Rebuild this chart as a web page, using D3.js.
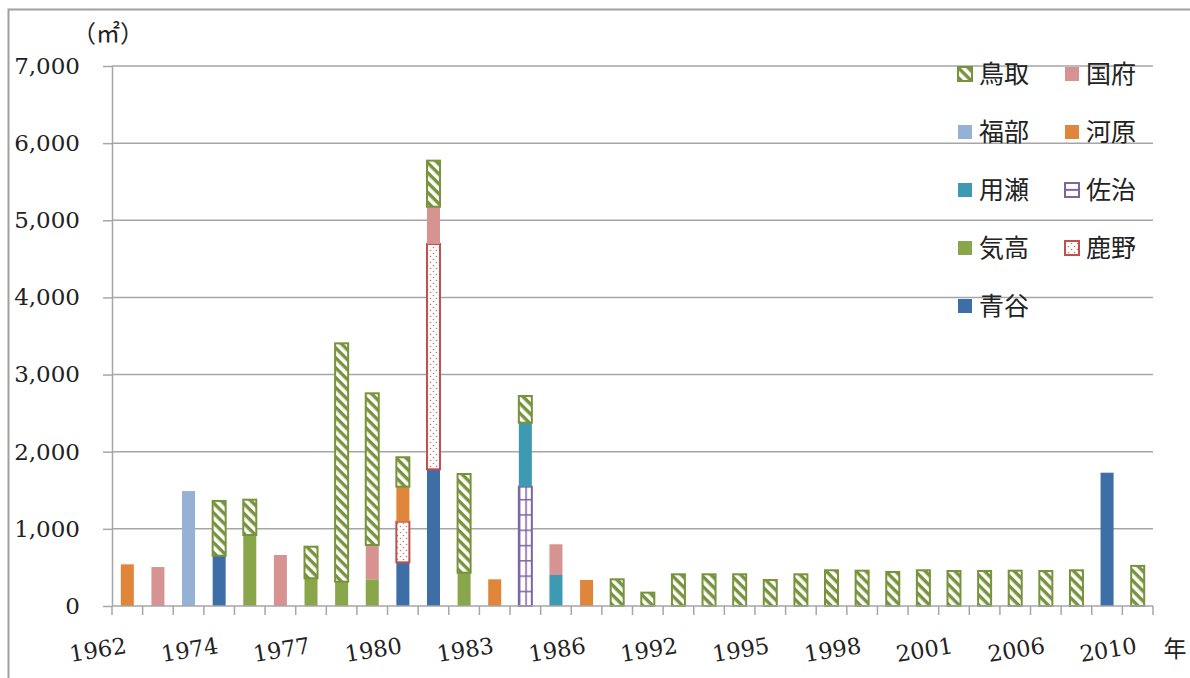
<!DOCTYPE html>
<html>
<head>
<meta charset="utf-8">
<script src="https://cdn.jsdelivr.net/npm/d3@7"></script>
<style>
  body { margin: 0; background: #fff; }
  svg { display: block; }
</style>
</head>
<body>
<div id="chart"></div>
<script>
// categories (only every third one gets a label on the axis)
const years = [
  '1962', '1966', '1970', '1974', '1975', '1976', '1977', '1978', '1979', '1980',
  '1981', '1982', '1983', '1984', '1985', '1986', '1988', '1990', '1992', '1993',
  '1994', '1995', '1996', '1997', '1998', '1999', '2000', '2001', '2003', '2005',
  '2006', '2008', '2009', '2010'
];

// values per area (m2), stacked bottom -> top in this order
const aoya = [
  0, 0, 0, 652, 0, 0, 0, 0, 0, 566,
  1772, 0, 0, 0, 0, 0, 0, 0, 0, 0,
  0, 0, 0, 0, 0, 0, 0, 0, 0, 0,
  0, 0, 1728, 0
];
const shikano = [
  0, 0, 0, 0, 0, 0, 0, 0, 0, 527,
  2921, 0, 0, 0, 0, 0, 0, 0, 0, 0,
  0, 0, 0, 0, 0, 0, 0, 0, 0, 0,
  0, 0, 0, 0
];
const ketaka = [
  0, 0, 0, 0, 920, 0, 359, 315, 346, 0,
  0, 432, 0, 0, 0, 0, 0, 0, 0, 0,
  0, 0, 0, 0, 0, 0, 0, 0, 0, 0,
  0, 0, 0, 0
];
const saji = [
  0, 0, 0, 0, 0, 0, 0, 0, 0, 0,
  0, 0, 0, 1547, 0, 0, 0, 0, 0, 0,
  0, 0, 0, 0, 0, 0, 0, 0, 0, 0,
  0, 0, 0, 0
];
const mochigase = [
  0, 0, 0, 0, 0, 0, 0, 0, 0, 0,
  0, 0, 0, 829, 402, 0, 0, 0, 0, 0,
  0, 0, 0, 0, 0, 0, 0, 0, 0, 0,
  0, 0, 0, 0
];
const kawahara = [
  540, 0, 0, 0, 0, 0, 0, 0, 0, 454,
  0, 0, 346, 0, 0, 337, 0, 0, 0, 0,
  0, 0, 0, 0, 0, 0, 0, 0, 0, 0,
  0, 0, 0, 0
];
const fukube = [
  0, 0, 1490, 0, 0, 0, 0, 0, 0, 0,
  0, 0, 0, 0, 0, 0, 0, 0, 0, 0,
  0, 0, 0, 0, 0, 0, 0, 0, 0, 0,
  0, 0, 0, 0
];
const kokufu = [
  0, 505, 0, 0, 0, 661, 0, 0, 445, 0,
  483, 0, 0, 0, 398, 0, 0, 0, 0, 0,
  0, 0, 0, 0, 0, 0, 0, 0, 0, 0,
  0, 0, 0, 0
];
const tottori = [
  0, 0, 0, 710, 458, 0, 410, 3090, 1966, 381,
  597, 1279, 0, 346, 0, 0, 346, 173, 411, 411,
  411, 337, 411, 463, 458, 441, 463, 454, 454, 458,
  454, 463, 0, 520
];

const seriesNames = ['青谷', '鹿野', '気高', '佐治', '用瀬', '河原', '福部', '国府', '鳥取'];
const seriesValues = [aoya, shikano, ketaka, saji, mochigase, kawahara, fukube, kokufu, tottori];
const legendOrder = ['鳥取', '国府', '福部', '河原', '用瀬', '佐治', '気高', '鹿野', '青谷'];
const yTicks = [0, 1000, 2000, 3000, 4000, 5000, 6000, 7000];

// fill / stroke per series
const styles = {
  '青谷': { fill: '#3E6EA6' },
  '鹿野': { fill: 'url(#dots)', stroke: '#C0504D' },
  '気高': { fill: '#8AA64A' },
  '佐治': { fill: 'url(#grid)', key: 'url(#gridKey)', stroke: '#8064A2' },
  '用瀬': { fill: '#3D9AB2' },
  '河原': { fill: '#E0863B' },
  '福部': { fill: '#95B1D6' },
  '国府': { fill: '#D69391' },
  '鳥取': { fill: 'url(#hatch)', stroke: '#77933C' }
};

const width = 1190, height = 678;
const gridColor = '#A6A6A6';
const numFont = '"DejaVu Serif", "Liberation Serif", serif';
const jpFont = '"Noto Sans CJK JP", sans-serif';

const table = years.map((yr, i) => {
  const row = { year: yr };
  seriesNames.forEach((n, k) => { row[n] = seriesValues[k][i]; });
  return row;
});

const x = d3.scaleBand().domain(years).range([112, 1153]).paddingInner(0.575).paddingOuter(0.2875);
const y = d3.scaleLinear().domain([0, 7000]).range([606, 66]);

const svg = d3.select('#chart').append('svg')
  .attr('width', width)
  .attr('height', height);

// patterns
const defs = svg.append('defs');

const hatch = defs.append('pattern')
  .attr('id', 'hatch')
  .attr('patternUnits', 'userSpaceOnUse')
  .attr('width', 7).attr('height', 7)
  .attr('patternTransform', 'rotate(45)');
hatch.append('rect').attr('width', 7).attr('height', 7).attr('fill', '#fff');
hatch.append('rect').attr('width', 7).attr('height', 3.4).attr('fill', '#77933C');

const dots = defs.append('pattern')
  .attr('id', 'dots')
  .attr('patternUnits', 'userSpaceOnUse')
  .attr('width', 6).attr('height', 6);
dots.append('rect').attr('width', 6).attr('height', 6).attr('fill', '#fff');
dots.append('circle').attr('cx', 1.5).attr('cy', 1.5).attr('r', 0.8).attr('fill', '#D8716F');
dots.append('circle').attr('cx', 4.5).attr('cy', 4.5).attr('r', 0.8).attr('fill', '#D8716F');

const sajiIdx = saji.findIndex(v => v > 0);
const grid = defs.append('pattern')
  .attr('id', 'grid')
  .attr('patternUnits', 'userSpaceOnUse')
  .attr('x', x(years[sajiIdx])).attr('y', y(0))
  .attr('width', x.bandwidth() / 2).attr('height', 15.3);
grid.append('rect').attr('width', x.bandwidth()).attr('height', 16).attr('fill', '#fff');
grid.append('rect').attr('width', x.bandwidth()).attr('height', 1.5).attr('fill', '#8064A2');
grid.append('rect').attr('width', 1.5).attr('height', 16).attr('fill', '#8064A2');

// legend key for 佐治: box with one horizontal line
const gridKey = defs.append('pattern')
  .attr('id', 'gridKey')
  .attr('patternUnits', 'objectBoundingBox')
  .attr('width', 1).attr('height', 1)
  .attr('patternContentUnits', 'objectBoundingBox');
gridKey.append('rect').attr('width', 1).attr('height', 1).attr('fill', '#fff');
gridKey.append('rect').attr('y', 0.42).attr('width', 1).attr('height', 0.14).attr('fill', '#8064A2');

// outer frame
svg.append('rect')
  .attr('x', 8.5).attr('y', 9.5)
  .attr('width', 1300).attr('height', 800)
  .attr('fill', 'none')
  .attr('stroke', '#A0A0A0')
  .attr('stroke-width', 2);

// gridlines
svg.append('g')
  .selectAll('line')
  .data(yTicks.filter(d => d > 0))
  .join('line')
  .attr('x1', 112).attr('x2', 1153)
  .attr('y1', d => y(d)).attr('y2', d => y(d))
  .attr('stroke', gridColor)
  .attr('stroke-width', 1.5);

// y axis
const yAxis = svg.append('g')
  .attr('transform', 'translate(112,0)')
  .call(d3.axisLeft(y).tickValues(yTicks).tickSize(9).tickSizeOuter(0).tickPadding(23).tickFormat(d3.format(',')));
yAxis.select('.domain').attr('stroke', gridColor).attr('stroke-width', 1.5);
yAxis.selectAll('.tick line').attr('stroke', gridColor).attr('stroke-width', 1.5);
yAxis.selectAll('.tick text')
  .attr('font-family', numFont)
  .attr('font-size', 23)
  .attr('fill', '#222');

// stacked bars
const stacked = d3.stack().keys(seriesNames)(table);

const layers = svg.append('g')
  .selectAll('g')
  .data(stacked)
  .join('g')
  .attr('fill', d => styles[d.key].fill)
  .attr('stroke', d => styles[d.key].stroke || 'none')
  .attr('stroke-width', 2);

layers.selectAll('rect')
  .data(d => d.filter(p => p[1] - p[0] > 0))
  .join('rect')
  .attr('x', d => x(d.data.year))
  .attr('y', d => y(d[1]))
  .attr('width', x.bandwidth())
  .attr('height', d => y(d[0]) - y(d[1]));

// x axis line + boundary ticks
const xAxis = svg.append('g');
xAxis.append('line')
  .attr('x1', 112).attr('x2', 1153)
  .attr('y1', y(0)).attr('y2', y(0))
  .attr('stroke', gridColor)
  .attr('stroke-width', 1.5);

xAxis.selectAll('.bound')
  .data(d3.range(years.length + 1))
  .join('line')
  .attr('class', 'bound')
  .attr('x1', i => x.range()[0] + i * x.step())
  .attr('x2', i => x.range()[0] + i * x.step())
  .attr('y1', y(0)).attr('y2', y(0) + 9)
  .attr('stroke', gridColor)
  .attr('stroke-width', 1.5);

xAxis.selectAll('.lbl')
  .data(years.filter((d, i) => i % 3 === 0))
  .join('text')
  .attr('class', 'lbl')
  .attr('x', d => x(d) + x.bandwidth() / 2)
  .attr('y', 653)
  .attr('transform', d => `rotate(-9, ${x(d) + x.bandwidth() / 2}, 653)`)
  .attr('text-anchor', 'end')
  .attr('font-family', numFont)
  .attr('font-size', 22.5)
  .attr('fill', '#222')
  .text(d => d);

// unit labels
svg.append('text')
  .attr('x', 108).attr('y', 42)
  .attr('text-anchor', 'middle')
  .attr('font-family', jpFont)
  .attr('font-size', 24)
  .attr('fill', '#222')
  .text('（㎡）');

svg.append('text')
  .attr('x', 1175).attr('y', 657)
  .attr('text-anchor', 'middle')
  .attr('font-family', jpFont)
  .attr('font-size', 23)
  .attr('fill', '#222')
  .text('年');

// legend
const legend = svg.append('g')
  .selectAll('g')
  .data(legendOrder)
  .join('g')
  .attr('transform', (d, i) => `translate(${957 + (i % 2) * 107}, ${74 + Math.floor(i / 2) * 58})`);

legend.append('rect')
  .attr('x', 1).attr('y', -7)
  .attr('width', 14).attr('height', 14)
  .attr('fill', d => styles[d].key || styles[d].fill)
  .attr('stroke', d => styles[d].stroke || 'none')
  .attr('stroke-width', 2);

legend.append('text')
  .attr('x', 22)
  .attr('y', 0)
  .attr('dy', '0.35em')
  .attr('font-family', jpFont)
  .attr('font-size', 25)
  .attr('fill', '#222')
  .text(d => d);
</script>
</body>
</html>
